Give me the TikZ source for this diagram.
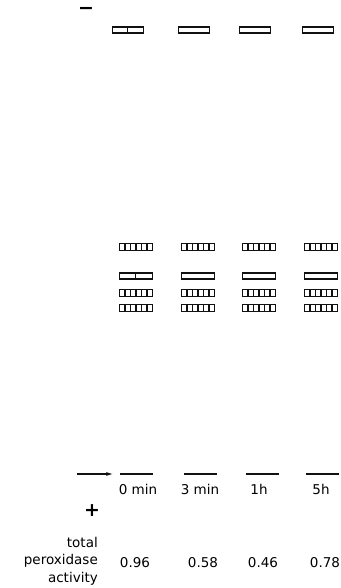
\documentclass[tikz,border=0pt]{standalone}
\usepackage{fontspec}
\setmainfont{DejaVu Sans}
\usetikzlibrary{arrows.meta,positioning,calc}
\definecolor{ink}{HTML}{111111}
\tikzset{
  band/.style={draw=ink,line width=1.1pt,minimum width=31pt,minimum height=6pt,inner sep=0pt},
  splitband/.style={band,path picture={\draw[ink,line width=0.7pt]
      ($(path picture bounding box.south west)!0.47!(path picture bounding box.south east)$) --
      ($(path picture bounding box.north west)!0.47!(path picture bounding box.north east)$);}},
  hatchband/.style={band,line width=1.6pt,minimum width=33pt,minimum height=7pt,path picture={
      \foreach \k in {1,...,5}{\draw[ink,line width=1.4pt]
        ($(path picture bounding box.south west)!\k/6!(path picture bounding box.south east)$) --
        ($(path picture bounding box.north west)!\k/6!(path picture bounding box.north east)$);}}},
  front/.style={fill=ink,minimum width=33pt,minimum height=1.6pt,inner sep=0pt},
  lab/.style={font=\fontsize{13.5}{17.5}\selectfont,inner sep=0pt},
  pole/.style={font=\fontsize{19}{19}\selectfont\bfseries,inner sep=0pt},
  arr/.style={-{Latex[length=7pt,width=4pt]},draw=ink,line width=1.2pt},
}
\begin{document}
\begin{tikzpicture}[x=1pt,y=-1pt]
  \useasboundingbox (0,0) rectangle (340,588);
  % electrodes
  \node[pole] (cathode) at (86,11) {−};
  \node[pole] (anode) at (92,511) {+};
  % bands near the cathode
  \node[splitband] (top1) at (128,30) {};
  \foreach \x/\n in {194/2,255/3,318/4}
    \node[band] (top\n) at (\x,30) {};
  % main group of bands
  \foreach \x/\n in {136/1,198/2,259/3,321/4}{
    \node[hatchband] (ma\n) at (\x,247) {};
    \node[band,minimum width=33pt] (mb\n) at (\x,276) {};
    \node[hatchband] (mc\n) at (\x,293) {};
    \node[hatchband] (md\n) at (\x,308) {};
  }
  \node[splitband,minimum width=33pt] at (mb1) {};
  % start lines and lane labels
  \foreach \x/\n in {136/1,200/2,262/3,322/4}
    \node[front] (f\n) at (\x,474) {};
  \coordinate (load) at (77,474);
  \draw[arr,shorten >=6pt] (load) -- (f1.west);
  \node[lab] (t1) at (138,489) {0 min};
  \node[lab] (t2) at (200,489) {3 min};
  \node[lab] (t3) at (259,489) {1h};
  \node[lab] (t4) at (321,489) {5h};
  % activity
  \node[lab,align=right,anchor=east] (act) at (98,561) {total\\peroxidase\\activity};
  \node[lab] (v1) at (135,563) {0.96};
  \node[lab] (v2) at (203,563) {0.58};
  \node[lab] (v3) at (263,563) {0.46};
  \node[lab] (v4) at (325,563) {0.78};
\end{tikzpicture}
\end{document}
